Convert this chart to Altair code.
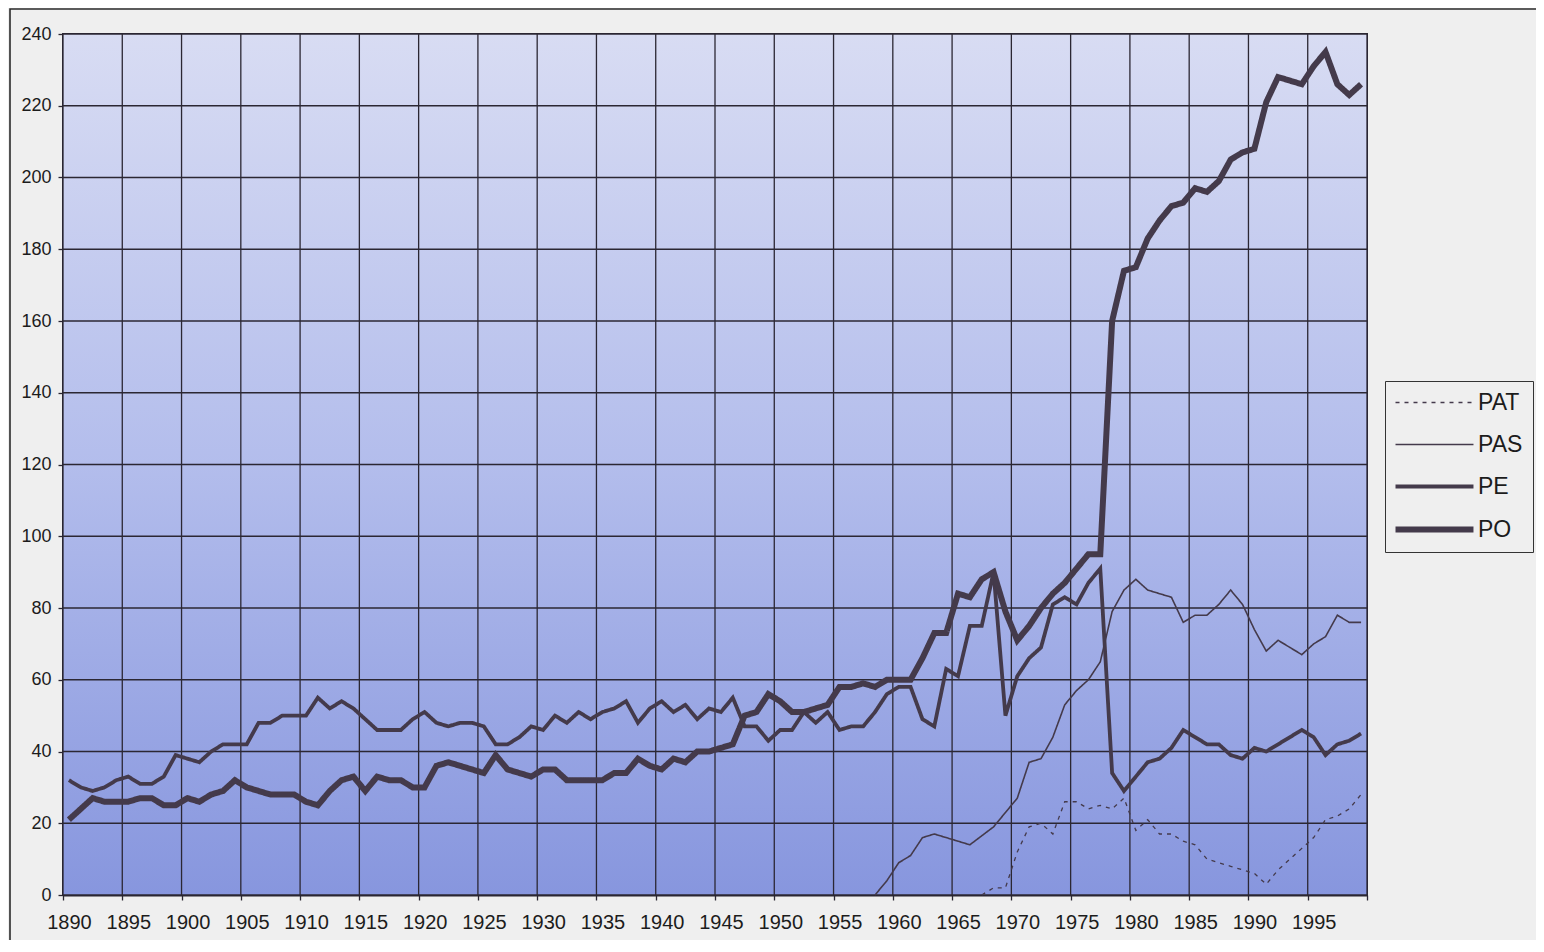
import altair as alt
import pandas as pd

# ---------------- data ----------------
years = list(range(1890, 2000))

pe_values = [
    32, 30, 29, 30, 32, 33, 31, 31, 33, 39,   # 1890-1899
    38, 37, 40, 42, 42, 42, 48, 48, 50, 50,   # 1900-1909
    50, 55, 52, 54, 52, 49, 46, 46, 46, 49,   # 1910-1919
    51, 48, 47, 48, 48, 47, 42, 42, 44, 47,   # 1920-1929
    46, 50, 48, 51, 49, 51, 52, 54, 48, 52,   # 1930-1939
    54, 51, 53, 49, 52, 51, 55, 47, 47, 43,   # 1940-1949
    46, 46, 51, 48, 51, 46, 47, 47, 51, 56,   # 1950-1959
    58, 58, 49, 47, 63, 61, 75, 75, 90, 50,   # 1960-1969
    61, 66, 69, 81, 83, 81, 87, 91, 34, 29,   # 1970-1979
    33, 37, 38, 41, 46, 44, 42, 42, 39, 38,   # 1980-1989
    41, 40, 42, 44, 46, 44, 39, 42, 43, 45,   # 1990-1999
]

po_values = [
    21, 24, 27, 26, 26, 26, 27, 27, 25, 25,   # 1890-1899
    27, 26, 28, 29, 32, 30, 29, 28, 28, 28,   # 1900-1909
    26, 25, 29, 32, 33, 29, 33, 32, 32, 30,   # 1910-1919
    30, 36, 37, 36, 35, 34, 39, 35, 34, 33,   # 1920-1929
    35, 35, 32, 32, 32, 32, 34, 34, 38, 36,   # 1930-1939
    35, 38, 37, 40, 40, 41, 42, 50, 51, 56,   # 1940-1949
    54, 51, 51, 52, 53, 58, 58, 59, 58, 60,   # 1950-1959
    60, 60, 66, 73, 73, 84, 83, 88, 90, 79,   # 1960-1969
    71, 75, 80, 84, 87, 91, 95, 95, 160, 174, # 1970-1979
    175, 183, 188, 192, 193, 197, 196, 199, 205, 207,  # 1980-1989
    208, 221, 228, 227, 226, 231, 235, 226, 223, 226,  # 1990-1999
]

pas_years = list(range(1958, 2000))
pas_values = [
    0, 4,                                      # 1958-1959
    9, 11, 16, 17, 16, 15, 14, 16.5, 19, 23,   # 1960-1969
    27, 37, 38, 44, 53, 57, 60, 65, 79, 85,    # 1970-1979
    88, 85, 84, 83, 76, 78, 78, 81, 85, 81,    # 1980-1989
    74, 68, 71, 69, 67, 70, 72, 78, 76, 76,    # 1990-1999
]

pat_years = list(range(1967, 2000))
pat_values = [
    0, 2, 2,                                   # 1967-1969
    12, 19, 20, 17, 26, 26, 24, 25, 24, 27,    # 1970-1979
    18, 21, 17, 17, 15, 14, 10, 9, 8, 7,       # 1980-1989
    6, 3, 7, 10, 13, 16, 21, 22, 24, 28,       # 1990-1999
]

series_names = ["PAT", "PAS", "PE", "PO"]
x_ticks = list(range(1890, 2001, 5))
y_ticks = list(range(0, 241, 20))

rows = []
for name, yrs, vals in [
    ("PAT", pat_years, pat_values),
    ("PAS", pas_years, pas_values),
    ("PE", years, pe_values),
    ("PO", years, po_values),
]:
    for yr, v in zip(yrs, vals):
        rows.append({"series": name, "year": yr, "value": v})
df = pd.DataFrame(rows)

# ---------------- style ----------------
W, H = 1304, 861
INK = "#443a4b"
GRID = "#2b2733"
TEXT = "#1c1c1c"
PAGE = "#efefef"
FONT = "Liberation Sans, Arial, sans-serif"

xscale = alt.Scale(domain=[1890, 2000], nice=False, zero=False)
yscale = alt.Scale(domain=[0, 240], nice=False, zero=True)

xaxis = alt.Axis(
    title=None, values=x_ticks, format="d", grid=False,
    labelExpr="datum.value == 2000 ? '' : datum.label",
    labelFont=FONT, labelFontSize=20, labelColor=TEXT, labelFlush=False,
    labelOffset=6, labelPadding=12, tickSize=5, tickColor=GRID, tickWidth=1.3,
    domainColor=GRID, domainWidth=2, labelOverlap=False,
)
yaxis = alt.Axis(
    title=None, values=y_ticks, grid=False,
    labelFont=FONT, labelFontSize=18, labelColor=TEXT,
    labelPadding=7, tickSize=5, tickColor=GRID, tickWidth=1.3,
    domainColor=GRID, domainWidth=2,
)

one = pd.DataFrame({"k": [0]})

frame = alt.Chart(one).mark_rect(filled=False, stroke="#2b2b2b", strokeWidth=1.6).encode(
    x=alt.value(-53), x2=alt.value(W + 400), y=alt.value(-25), y2=alt.value(H + 400)
)

bg = alt.Chart(one).mark_rect(
    color=alt.Gradient(
        gradient="linear",
        stops=[
            alt.GradientStop(color="#d8dcf3", offset=0),
            alt.GradientStop(color="#b3bdec", offset=0.5),
            alt.GradientStop(color="#8796de", offset=1),
        ],
        x1=0, x2=0, y1=0, y2=1,
    )
).encode(x=alt.value(0), x2=alt.value(W), y=alt.value(0), y2=alt.value(H))

vgrid = alt.Chart(pd.DataFrame({"t": x_ticks})).mark_rule(color=GRID, strokeWidth=1.3).encode(
    x=alt.X("t:Q", scale=xscale, axis=xaxis)
)
hgrid = alt.Chart(pd.DataFrame({"v": y_ticks})).mark_rule(color=GRID, strokeWidth=1.3).encode(
    y=alt.Y("v:Q", scale=yscale, axis=yaxis)
)

leg = alt.Legend(
    title=None, orient="none", legendX=1322, legendY=347,
    symbolType="M0,0H16", symbolSize=95, symbolOffset=-11, labelOffset=71,
    labelFont=FONT, labelFontSize=23, labelColor=TEXT, rowPadding=18, padding=10,
    strokeColor="#333333", fillColor=PAGE,
)

lines = alt.Chart(df).transform_calculate(xpos="datum.year + 0.5").mark_line(
    strokeJoin="miter", strokeMiterLimit=3
).encode(
    x=alt.X("xpos:Q", scale=xscale, axis=xaxis),
    y=alt.Y("value:Q", scale=yscale, axis=yaxis),
    color=alt.Color(
        "series:N", sort=series_names,
        scale=alt.Scale(domain=series_names, range=[INK] * 4), legend=leg,
    ),
    strokeDash=alt.StrokeDash(
        "series:N", sort=series_names,
        scale=alt.Scale(domain=series_names, range=[[4, 5], [1, 0], [1, 0], [1, 0]]),
        legend=leg,
    ),
    strokeWidth=alt.StrokeWidth(
        "series:N", sort=series_names,
        scale=alt.Scale(type="ordinal", domain=series_names, range=[1.3, 1.6, 3.8, 6.0]),
        legend=leg,
    ),
)

chart = (
    alt.layer(frame, bg, vgrid, hgrid, lines)
    .properties(
        width=W, height=H,
        padding={"left": 55, "top": 26, "right": 169, "bottom": 45},
        autosize=alt.AutoSizeParams(type="none"),
    )
    .configure(background=PAGE)
    .configure_view(stroke=GRID, strokeWidth=2)
)

chart.save("out.html", embed_options={"renderer": "svg", "actions": False})
